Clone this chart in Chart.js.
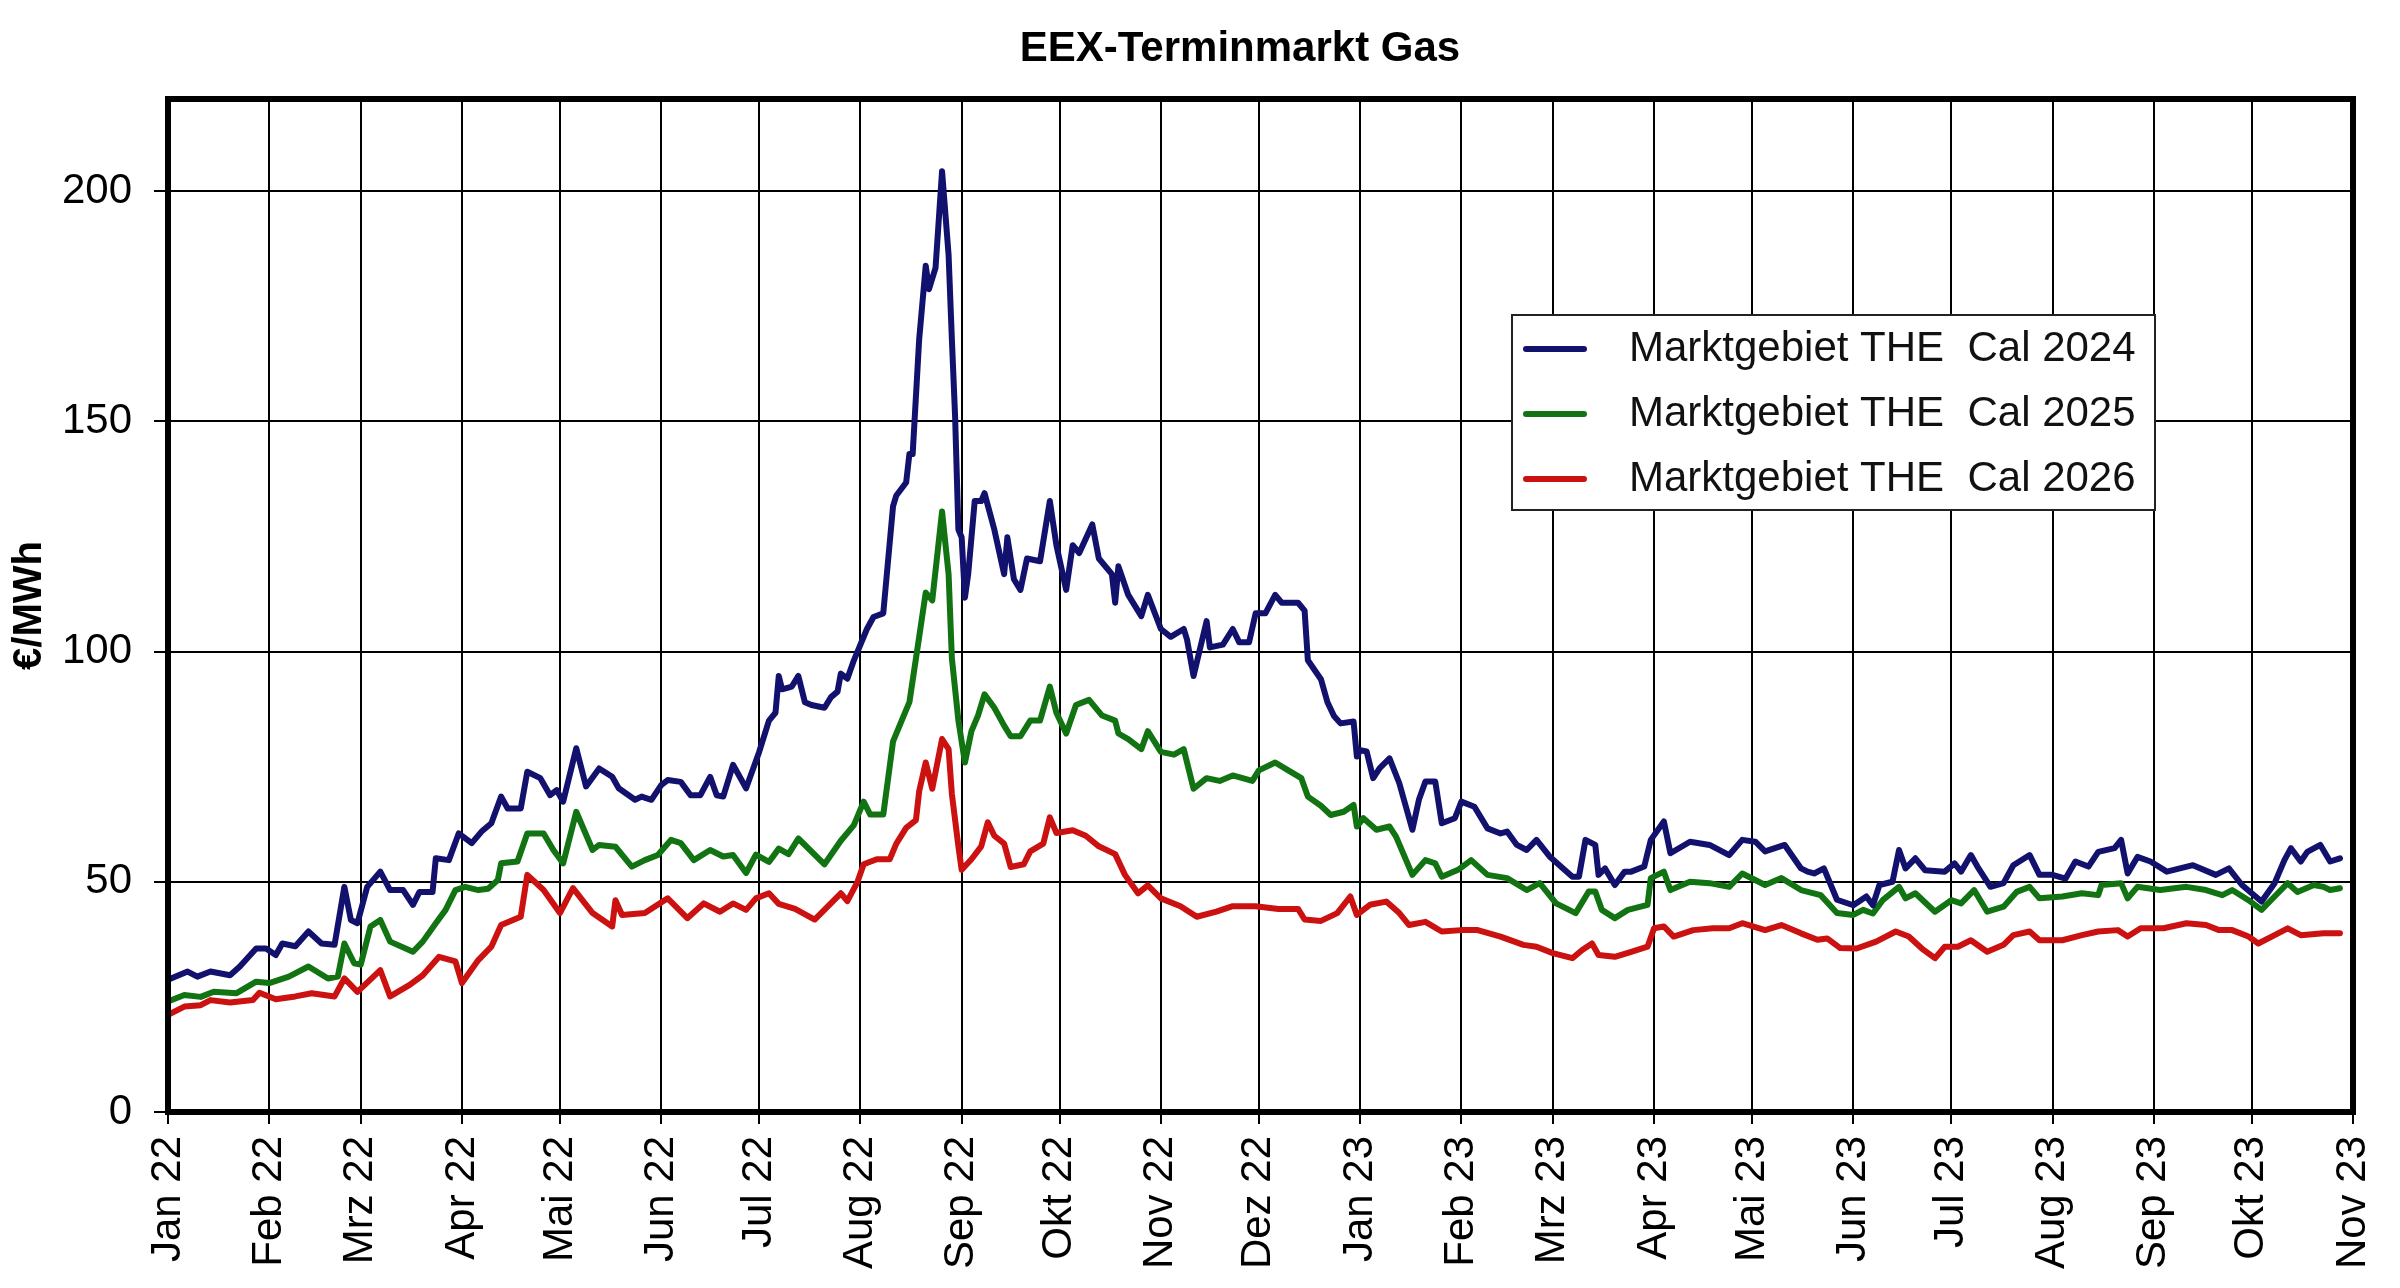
<!DOCTYPE html>
<html>
<head>
<meta charset="utf-8">
<title>EEX-Terminmarkt Gas</title>
<script src="https://cdn.jsdelivr.net/npm/chart.js@4.4.1/dist/chart.umd.min.js"></script>
<style>
  html, body { margin: 0; padding: 0; background: #fff; }
  #wrap { width: 2400px; height: 1288px; }
</style>
</head>
<body>
<div id="wrap"><canvas id="gasChart" width="2400" height="1288"></canvas></div>
<script>
// days counted from 1 Jan 2022
const monthLabels = ['Jan 22', 'Feb 22', 'Mrz 22', 'Apr 22', 'Mai 22', 'Jun 22', 'Jul 22', 'Aug 22',
  'Sep 22', 'Okt 22', 'Nov 22', 'Dez 22', 'Jan 23', 'Feb 23', 'Mrz 23', 'Apr 23', 'Mai 23', 'Jun 23',
  'Jul 23', 'Aug 23', 'Sep 23', 'Okt 23', 'Nov 23'];
const yTicks = [0, 50, 100, 150, 200];

const cal2024Days = [0, 6, 9, 13, 19, 22, 27, 30, 33, 35, 39, 43, 47, 51, 54, 56, 58, 61, 65, 68, 72, 75, 77, 81, 82, 86, 89, 93, 96, 99,
  102, 104, 108, 110, 114, 117, 119, 121, 125, 128, 132, 136, 138, 143, 145, 148, 151, 153, 157, 160, 163, 166, 168, 170, 173, 177,
  181, 184, 186, 187, 188, 191, 193, 195, 197, 201, 203, 205, 206, 208, 210, 214, 216, 219, 222, 223, 226, 227, 228, 230, 232, 233,
  235, 237, 239, 240, 241, 242, 243, 244, 245, 247, 249, 250, 253, 256, 257, 259, 261, 263, 267, 270, 272, 275, 277, 279, 283, 285,
  289, 290, 291, 294, 298, 300, 304, 307, 311, 312, 314, 318, 319, 323, 326, 328, 331, 333, 336, 339, 341, 346, 348, 349, 353, 355,
  357, 359, 363, 364, 365, 367, 369, 371, 374, 377, 381, 383, 385, 388, 390, 394, 396, 400, 404, 408, 410, 413, 416, 419, 423, 430,
  432, 434, 437, 438, 440, 443, 446, 448, 452, 454, 458, 460, 466, 472, 478, 482, 486, 489, 495, 500, 502, 504, 507, 511, 516, 520,
  522, 524, 528, 530, 532, 535, 538, 544, 547, 549, 552, 554, 558, 562, 565, 570, 573, 577, 581, 584, 588, 591, 596, 598, 600, 603,
  607, 612, 620, 627, 631, 635, 638, 641, 645, 648, 650, 653, 655, 659, 662, 665];
const cal2024Values = [28.7, 30.5, 29.4, 30.5, 29.7, 31.6, 35.5, 35.5, 34.1, 36.6, 36.0, 39.2, 36.6, 36.3, 48.9, 41.7, 41.0, 48.9, 52.2, 48.2, 48.2, 45.0, 47.8, 47.8, 55.1, 54.7, 60.5, 58.4, 60.9, 62.7,
  68.5, 65.9, 65.9, 73.9, 72.5, 68.8, 69.9, 67.4, 79.0, 70.7, 74.6, 72.8, 70.3, 67.8, 68.5, 67.8, 71.0, 72.1, 71.7, 68.8, 68.8, 72.8, 68.8, 68.5, 75.4, 70.3,
  78.2, 85.0, 86.7, 94.7, 91.8, 92.4, 94.7, 89.0, 88.4, 87.8, 90.1, 91.3, 95.2, 94.1, 98.1, 104.9, 107.5, 108.3, 131.6, 133.9, 136.7, 142.9, 142.9, 167.9, 183.8, 178.7,
  183.3, 204.3, 186.1, 167.9, 150.9, 126.5, 124.8, 111.7, 116.8, 132.7, 132.7, 134.4, 126.5, 116.8, 124.8, 115.7, 113.4, 120.2, 119.6, 132.7, 123.1, 113.4, 123.1, 121.4, 127.6, 120.2,
  116.8, 110.6, 118.5, 112.3, 107.7, 112.3, 104.9, 103.2, 104.9, 102.6, 94.7, 106.6, 100.9, 101.5, 104.9, 102.0, 102.0, 108.3, 108.3, 112.3, 110.6, 110.6, 108.9, 98.1, 94.0, 89.0,
  86.0, 84.4, 84.8, 77.2, 78.6, 78.3, 72.5, 74.7, 76.8, 71.4, 61.3, 67.8, 71.8, 71.8, 62.7, 63.8, 67.4, 66.3, 61.6, 60.5, 60.9, 58.0, 56.9, 59.1, 55.5, 51.1,
  51.1, 59.1, 58.0, 51.5, 52.9, 49.3, 52.2, 52.2, 53.3, 59.1, 63.1, 56.2, 58.7, 58.0, 55.8, 59.1, 58.7, 56.6, 58.0, 52.9, 52.2, 51.8, 52.9, 46.1, 44.9, 46.8,
  44.9, 49.3, 50.0, 56.9, 52.9, 55.1, 52.5, 52.2, 54.0, 52.2, 55.8, 53.3, 48.9, 49.7, 53.6, 55.8, 51.5, 51.5, 50.7, 54.4, 53.3, 56.5, 57.3, 59.1, 51.8, 55.4,
  54.4, 52.2, 53.6, 51.5, 52.9, 49.3, 47.5, 45.7, 49.7, 54.7, 57.3, 54.4, 56.5, 58.0, 54.4, 55.1];

const cal2025Days = [0, 5, 10, 14, 21, 27, 31, 37, 43, 49, 52, 54, 57, 59, 62, 65, 68, 75, 78, 82, 85, 88, 91, 95, 98, 101, 102, 107, 110, 115,
  118, 121, 125, 130, 132, 137, 142, 146, 150, 154, 157, 161, 166, 170, 173, 177, 180, 184, 187, 190, 193, 201, 206, 210, 213, 215, 219, 222, 224, 227,
  230, 232, 234, 237, 239, 240, 242, 244, 246, 248, 250, 253, 256, 258, 261, 264, 267, 270, 272, 275, 278, 282, 286, 290, 291, 294, 298, 300, 304, 308,
  311, 314, 318, 322, 326, 332, 334, 339, 343, 347, 349, 353, 356, 360, 363, 364, 366, 370, 374, 376, 381, 385, 388, 390, 395, 399, 404, 410, 416, 420,
  425, 431, 435, 437, 439, 443, 447, 453, 454, 458, 460, 466, 472, 478, 482, 489, 494, 500, 506, 511, 516, 519, 522, 525, 530, 532, 535, 541, 546, 549,
  553, 557, 562, 566, 570, 573, 580, 586, 591, 592, 598, 600, 603, 610, 618, 624, 629, 632, 637, 641, 645, 649, 652, 657, 660, 662, 665];
const cal2025Values = [24.0, 25.4, 25.0, 26.1, 25.8, 28.3, 28.0, 29.4, 31.6, 29.0, 29.4, 36.6, 32.3, 32.0, 40.3, 41.7, 37.0, 34.8, 37.0, 41.0, 43.9, 48.2, 48.9, 48.2, 48.5, 50.4, 54.0, 54.4, 60.5, 60.5,
  56.9, 54.0, 65.2, 56.9, 58.0, 57.6, 53.3, 54.7, 55.8, 59.1, 58.4, 54.7, 56.9, 55.5, 55.8, 51.9, 55.9, 54.3, 57.2, 56.0, 59.4, 53.8, 58.9, 62.3, 67.4, 64.6, 64.6, 80.5, 83.9, 89.0,
  103.2, 112.8, 111.1, 130.4, 116.8, 98.6, 85.0, 75.9, 82.7, 86.1, 90.7, 87.8, 83.9, 81.6, 81.6, 85.0, 85.0, 92.4, 86.7, 82.2, 88.4, 89.5, 86.1, 85.0, 82.2, 81.0, 78.8, 82.7, 78.2, 77.6,
  78.8, 70.2, 72.5, 71.9, 73.1, 71.9, 74.2, 75.9, 74.2, 72.5, 68.5, 66.5, 64.5, 65.2, 66.7, 62.0, 63.8, 61.3, 62.0, 59.8, 51.5, 54.7, 54.0, 51.1, 52.6, 54.7, 51.5, 50.8, 48.2, 49.7,
  45.3, 43.2, 47.9, 47.9, 43.9, 42.1, 43.9, 45.0, 50.8, 52.2, 48.2, 50.0, 49.7, 48.9, 51.8, 49.3, 50.8, 48.2, 47.1, 43.2, 42.8, 43.9, 43.1, 46.0, 48.9, 46.4, 47.5, 43.5, 46.0, 45.3,
  48.2, 43.5, 44.6, 47.8, 48.9, 46.4, 46.8, 47.5, 47.1, 49.3, 49.7, 46.4, 48.9, 48.2, 48.9, 48.2, 47.1, 48.2, 46.0, 43.9, 46.8, 49.7, 47.8, 49.3, 48.9, 48.2, 48.6];

const cal2026Days = [0, 5, 10, 13, 19, 26, 28, 33, 39, 44, 51, 54, 58, 65, 68, 74, 78, 83, 88, 90, 95, 99, 102, 108, 110, 115, 120, 124, 130, 136,
  137, 139, 146, 153, 159, 164, 169, 173, 177, 180, 184, 187, 192, 198, 206, 208, 211, 213, 217, 221, 223, 226, 229, 230, 232, 234, 237, 239, 240, 242,
  243, 246, 249, 251, 253, 256, 258, 262, 264, 268, 270, 272, 277, 281, 285, 290, 293, 297, 300, 304, 310, 315, 321, 326, 333, 340, 346, 348, 353, 358,
  362, 364, 368, 373, 377, 380, 385, 390, 396, 401, 408, 415, 419, 424, 430, 433, 436, 438, 443, 448, 453, 455, 458, 461, 467, 473, 478, 482, 489, 494,
  500, 505, 508, 512, 517, 523, 529, 533, 537, 541, 544, 548, 552, 557, 562, 565, 570, 573, 580, 586, 591, 597, 600, 604, 611, 618, 624, 628, 632, 637,
  640, 645, 649, 653, 660, 665];
const cal2026Values = [21.1, 22.9, 23.2, 24.3, 23.8, 24.3, 25.9, 24.5, 25.1, 25.8, 25.1, 29.0, 26.1, 30.8, 25.1, 27.6, 29.7, 33.7, 32.7, 28.0, 33.0, 35.9, 40.6, 42.4, 51.5, 48.2, 43.2, 48.6, 43.2, 40.3,
  46.0, 42.8, 43.2, 46.4, 42.1, 45.3, 43.5, 45.3, 43.9, 46.4, 47.5, 45.2, 44.1, 41.8, 47.5, 45.8, 49.8, 53.8, 54.9, 54.9, 58.3, 61.7, 63.4, 69.7, 75.9, 70.2, 81.0, 78.8, 69.1, 57.7,
  52.6, 54.9, 57.7, 62.9, 60.0, 58.3, 53.2, 53.8, 56.6, 58.3, 64.0, 60.6, 61.2, 60.0, 57.7, 56.0, 51.5, 47.5, 49.2, 46.4, 44.7, 42.4, 43.5, 44.7, 44.7, 44.1, 44.1, 41.8, 41.5, 43.2,
  46.8, 42.8, 45.0, 45.7, 43.2, 40.6, 41.3, 39.2, 39.5, 39.5, 38.1, 36.3, 35.9, 34.5, 33.4, 35.2, 36.6, 34.1, 33.7, 34.8, 35.9, 39.9, 40.3, 38.1, 39.5, 39.9, 39.9, 41.0, 39.5, 40.6,
  38.8, 37.4, 37.7, 35.6, 35.5, 37.0, 39.2, 38.1, 35.5, 33.4, 35.9, 35.9, 37.3, 34.8, 36.3, 38.4, 39.2, 37.3, 37.3, 38.4, 39.2, 39.5, 38.1, 39.9, 39.9, 41.0, 40.6, 39.5, 39.5, 38.1,
  36.6, 38.4, 39.9, 38.4, 38.8, 38.8];

const startDate = Date.UTC(2022, 0, 1);
const monthDays = monthLabels.map((l, i) => Math.round((Date.UTC(2022, i, 1) - startDate) / 86400000));

function toPoints(days, values) {
  return days.map((d, i) => ({ x: d, y: values[i] }));
}

const axisFont = { family: 'Liberation Sans, Arial, sans-serif', size: 42 };

// frame, title and the boxed legend inside the plot
const framePlugin = {
  id: 'frame',
  afterDraw(chart) {
    const { ctx, chartArea: a } = chart;
    ctx.save();
    ctx.strokeStyle = '#000';
    ctx.lineWidth = 6;
    ctx.strokeRect(a.left, a.top, a.right - a.left, a.bottom - a.top);

    ctx.fillStyle = '#000';
    ctx.font = 'bold 42px Liberation Sans, Arial, sans-serif';
    ctx.textAlign = 'center';
    ctx.textBaseline = 'middle';
    ctx.fillText('EEX-Terminmarkt Gas', 1240, 49);

    const bx = 1512, by = 315, bw = 643, bh = 195;
    ctx.fillStyle = '#fff';
    ctx.fillRect(bx, by, bw, bh);
    ctx.strokeStyle = '#222';
    ctx.lineWidth = 2;
    ctx.strokeRect(bx, by, bw, bh);
    ctx.font = '42px Liberation Sans, Arial, sans-serif';
    ctx.textAlign = 'left';
    chart.data.datasets.forEach((ds, i) => {
      const y = by + 34 + i * 65;
      ctx.strokeStyle = ds.borderColor;
      ctx.lineWidth = 6;
      ctx.lineCap = 'round';
      ctx.beginPath();
      ctx.moveTo(bx + 14, y);
      ctx.lineTo(bx + 72, y);
      ctx.stroke();
      ctx.fillStyle = '#111';
      ctx.fillText(ds.label, bx + 117, y);
    });
    ctx.restore();
  }
};

const ctx = document.getElementById('gasChart').getContext('2d');
const gasChart = new Chart(ctx, {
  type: 'line',
  data: {
    datasets: [{
      label: 'Marktgebiet THE  Cal 2024',
      data: toPoints(cal2024Days, cal2024Values),
      borderColor: '#12126e'
    }, {
      label: 'Marktgebiet THE  Cal 2025',
      data: toPoints(cal2025Days, cal2025Values),
      borderColor: '#117311'
    }, {
      label: 'Marktgebiet THE  Cal 2026',
      data: toPoints(cal2026Days, cal2026Values),
      borderColor: '#cc1111'
    }]
  },
  options: {
    responsive: false,
    animation: false,
    devicePixelRatio: 1,
    layout: { padding: { left: 0, right: 47, top: 99, bottom: 0 } },
    elements: {
      line: { borderWidth: 6, tension: 0, borderJoinStyle: 'round', borderCapStyle: 'round' },
      point: { radius: 0 }
    },
    plugins: {
      legend: { display: false },
      title: { display: false },
      tooltip: { enabled: false }
    },
    scales: {
      x: {
        type: 'linear',
        min: 0,
        max: monthDays[monthDays.length - 1],
        afterBuildTicks: scale => { scale.ticks = monthDays.map(v => ({ value: v })); },
        afterFit: scale => {
          scale.height = 176;
          scale.paddingLeft = 0;
          scale.paddingRight = 0;
        },
        border: { display: false },
        grid: { color: '#000', lineWidth: 2, tickLength: 12 },
        ticks: {
          autoSkip: false,
          minRotation: 90,
          maxRotation: 90,
          padding: 12,
          color: '#000',
          font: axisFont,
          callback: (value, index) => monthLabels[index]
        }
      },
      y: {
        min: 0,
        max: 220,
        afterBuildTicks: scale => { scale.ticks = yTicks.map(v => ({ value: v })); },
        afterFit: scale => { scale.width = 168; },
        border: { display: false },
        grid: { color: '#000', lineWidth: 2, tickLength: 14 },
        ticks: { padding: 22, color: '#000', font: axisFont },
        title: {
          display: true,
          text: '€/MWh',
          color: '#000',
          padding: { top: 6, bottom: 0 },
          font: { family: 'Liberation Sans, Arial, sans-serif', size: 40, weight: 'bold' }
        }
      }
    }
  },
  plugins: [framePlugin]
});
</script>
</body>
</html>
